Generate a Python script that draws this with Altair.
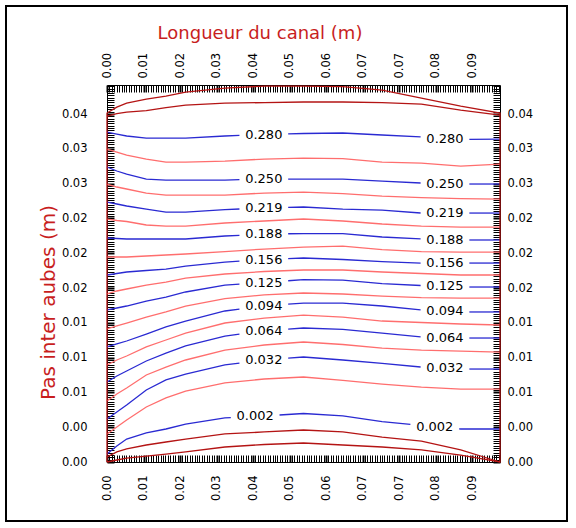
import numpy as np
import pandas as pd
import altair as alt

# Extent of the blade-to-blade channel (m)
X_MAX = 0.1
Y_MAX = 0.03792

# Axis graduations and the labels printed on them
X_STEP = 0.00929
X_TICK_LABELS = ["0.00", "0.01", "0.02", "0.03", "0.04", "0.05",
                 "0.06", "0.07", "0.07", "0.08", "0.09"]
Y_STEP = 0.0035
Y_TICK_LABELS = ["0.00", "0.00", "0.01", "0.01", "0.01", "0.02",
                 "0.02", "0.02", "0.03", "0.03", "0.04"]
SUBDIV = 15

# Abscissae (m) at which every curve is sampled
X_GRID = [0.0, 0.0025, 0.005, 0.01, 0.015, 0.02, 0.03, 0.04, 0.05,
          0.06, 0.07, 0.08, 0.09, 0.1]

# Blade walls and near-wall curves (m)
UPPER_WALL = [0.03510, 0.03570, 0.03610, 0.03651, 0.03681, 0.03721, 0.03761,
              0.03781, 0.03781, 0.03776, 0.03741, 0.03661, 0.03580, 0.03510]
UPPER_NEAR = [0.03480, 0.03505, 0.03520, 0.03535, 0.03565, 0.03590, 0.03610,
              0.03615, 0.03621, 0.03621, 0.03615, 0.03600, 0.03540, 0.03490]
LOWER_NEAR = [0.00050, 0.00101, 0.00131, 0.00171, 0.00201, 0.00231, 0.00282,
              0.00302, 0.00322, 0.00302, 0.00251, 0.00211, 0.00121, 0.0]
LOWER_WALL = [0.0, 0.00020, 0.00040, 0.00060, 0.00080, 0.00101, 0.00151,
              0.00176, 0.00191, 0.00171, 0.00151, 0.00121, 0.00070, 0.0]

# Stream-function iso-lines, top to bottom (m)
STREAM_LEVELS = [0.280, 0.265, 0.250, 0.234, 0.219, 0.203, 0.188, 0.172,
                 0.156, 0.141, 0.125, 0.110, 0.094, 0.079, 0.064, 0.048,
                 0.032, 0.017, 0.002]
STREAMLINES = [
    [0.03319, 0.03299, 0.03279, 0.03258, 0.03258, 0.03258, 0.03279, 0.03294, 0.03304, 0.03309, 0.03289, 0.03269, 0.03243, 0.03248],
    [0.03148, 0.03118, 0.03087, 0.03047, 0.03017, 0.03017, 0.03027, 0.03047, 0.03057, 0.03052, 0.03017, 0.03007, 0.02977, 0.02997],
    [0.02967, 0.02927, 0.02896, 0.02846, 0.02836, 0.02836, 0.02836, 0.02846, 0.02846, 0.02846, 0.02826, 0.02806, 0.02796, 0.02796],
    [0.02796, 0.02766, 0.02746, 0.02705, 0.02685, 0.02685, 0.02685, 0.02705, 0.02715, 0.02700, 0.02675, 0.02660, 0.02650, 0.02645],
    [0.02615, 0.02595, 0.02575, 0.02544, 0.02514, 0.02514, 0.02539, 0.02554, 0.02565, 0.02544, 0.02534, 0.02504, 0.02504, 0.02504],
    [0.02444, 0.02429, 0.02419, 0.02384, 0.02373, 0.02373, 0.02404, 0.02424, 0.02444, 0.02424, 0.02394, 0.02373, 0.02363, 0.02363],
    [0.02253, 0.02248, 0.02243, 0.02243, 0.02243, 0.02243, 0.02273, 0.02293, 0.02298, 0.02298, 0.02263, 0.02243, 0.02233, 0.02233],
    [0.02062, 0.02062, 0.02062, 0.02072, 0.02082, 0.02092, 0.02117, 0.02142, 0.02162, 0.02172, 0.02137, 0.02117, 0.02112, 0.02112],
    [0.01881, 0.01896, 0.01911, 0.01926, 0.01941, 0.01971, 0.02011, 0.02037, 0.02052, 0.02037, 0.02016, 0.02001, 0.02001, 0.02001],
    [0.01690, 0.01720, 0.01740, 0.01780, 0.01810, 0.01850, 0.01891, 0.01916, 0.01931, 0.01931, 0.01911, 0.01896, 0.01881, 0.01881],
    [0.01529, 0.01549, 0.01569, 0.01619, 0.01659, 0.01710, 0.01780, 0.01805, 0.01835, 0.01830, 0.01795, 0.01775, 0.01760, 0.01760],
    [0.01338, 0.01368, 0.01398, 0.01458, 0.01509, 0.01569, 0.01644, 0.01680, 0.01700, 0.01690, 0.01669, 0.01654, 0.01649, 0.01649],
    [0.01157, 0.01187, 0.01217, 0.01287, 0.01358, 0.01418, 0.01519, 0.01569, 0.01599, 0.01599, 0.01569, 0.01529, 0.01509, 0.01509],
    [0.00976, 0.01026, 0.01066, 0.01157, 0.01227, 0.01297, 0.01398, 0.01448, 0.01478, 0.01458, 0.01418, 0.01403, 0.01388, 0.01378],
    [0.00805, 0.00865, 0.00915, 0.01016, 0.01096, 0.01167, 0.01267, 0.01317, 0.01348, 0.01333, 0.01297, 0.01257, 0.01247, 0.01247],
    [0.00613, 0.00684, 0.00744, 0.00875, 0.00955, 0.01026, 0.01126, 0.01177, 0.01207, 0.01182, 0.01146, 0.01126, 0.01116, 0.01106],
    [0.00432, 0.00503, 0.00573, 0.00724, 0.00825, 0.00885, 0.00976, 0.01026, 0.01056, 0.01026, 0.00991, 0.00955, 0.00935, 0.00935],
    [0.00282, 0.00352, 0.00422, 0.00553, 0.00644, 0.00714, 0.00795, 0.00835, 0.00855, 0.00820, 0.00784, 0.00754, 0.00734, 0.00734],
    [0.00080, 0.00161, 0.00231, 0.00292, 0.00332, 0.00382, 0.00443, 0.00463, 0.00488, 0.00463, 0.00407, 0.00367, 0.00332, 0.00332],
]
# Abscissae (m) of the in-line value labels of each blue iso-line
LABEL_X = {0: [0.0399, 0.0860], 2: [0.0399, 0.0860], 4: [0.0399, 0.0860],
           6: [0.0399, 0.0860], 8: [0.0399, 0.0860], 10: [0.0399, 0.0860],
           12: [0.0399, 0.0860], 14: [0.0399, 0.0860], 16: [0.0399, 0.0860],
           18: [0.0377, 0.0834]}
LABEL_GAP = 0.0062

BLUE = "#2a2ad2"
PINK = "#ff6e6e"
WALL = "#b41414"
TITLE_RED = "#c81e1e"

# ---- line table: iso-lines broken around their labels ----
rows = []
for i, (lvl, ys) in enumerate(zip(STREAM_LEVELS, STREAMLINES)):
    kind = "blue" if i % 2 == 0 else "pink"
    gaps = LABEL_X.get(i, [])
    xs = sorted(set(X_GRID) | {g - LABEL_GAP for g in gaps} | {g + LABEL_GAP for g in gaps})
    for j, x in enumerate(xs):
        if any(g - LABEL_GAP + 1e-9 < x < g + LABEL_GAP - 1e-9 for g in gaps):
            continue
        seg = sum(1 for g in gaps if x >= g + LABEL_GAP - 1e-9)
        rows.append({"x": x, "y": float(np.interp(x, X_GRID, ys)),
                     "kind": kind, "seg": f"s{i}_{seg}", "o": j})

# channel boundary: lower wall, outlet, upper wall, inlet
bx = list(X_GRID) + [X_GRID[-1]] + list(X_GRID[::-1]) + [0.0]
by = list(LOWER_WALL) + [UPPER_WALL[-1]] + list(UPPER_WALL[::-1]) + [0.0]
for j, (x, y) in enumerate(zip(bx, by)):
    rows.append({"x": x, "y": y, "kind": "wall", "seg": "wall", "o": j})
for name, ys in (("up", UPPER_NEAR), ("low", LOWER_NEAR)):
    for j, (x, y) in enumerate(zip(X_GRID, ys)):
        rows.append({"x": x, "y": y, "kind": "wall", "seg": name, "o": j})
lines = pd.DataFrame(rows)

labels = pd.DataFrame([
    {"x": gx, "y": float(np.interp(gx, X_GRID, STREAMLINES[i])),
     "text": f"{STREAM_LEVELS[i]:.3f}"}
    for i, gl in LABEL_X.items() for gx in gl
])

# ---- axes: dense graduation ticks with labels on the main ones ----
def graduations(step, top):
    n = int(top / (step / SUBDIV) + 1e-9)
    return [round(k * step / SUBDIV, 7) for k in range(n + 1)]

def label_expr(step, names):
    arr = "[" + ",".join(f"'{s}'" for s in names) + "]"
    r = f"round(datum.value/{step})"
    return (f"abs(datum.value/{step} - {r}) < 0.03 && {r} < {len(names)} "
            f"? {arr}[{r}] : ''")

def major_test(step):
    return f"abs(datum.value/{step} - round(datum.value/{step})) < 0.03"

X_TICKS = graduations(X_STEP, X_MAX)
Y_TICKS = graduations(Y_STEP, Y_MAX)

common = dict(offset=-7, tickSize=7, domain=False, grid=False,
              labelOverlap=False, labelFlush=False, labelBound=False,
              labelFont="DejaVu Sans", labelFontSize=11.5, labelColor="black",
              tickColor="black",
              titleFont="DejaVu Sans", titleColor=TITLE_RED,
              titleFontWeight="normal")


def x_axis(orient, pad, **kw):
    return alt.Axis(orient=orient, values=X_TICKS, labelAngle=270,
                    labelPadding=pad,
                    labelExpr=label_expr(X_STEP, X_TICK_LABELS),
                    tickWidth={"condition": {"test": major_test(X_STEP), "value": 2},
                               "value": 1},
                    **common, **kw)


def y_axis(orient, pad, **kw):
    return alt.Axis(orient=orient, values=Y_TICKS, labelPadding=pad,
                    labelExpr=label_expr(Y_STEP, Y_TICK_LABELS),
                    tickWidth={"condition": {"test": major_test(Y_STEP), "value": 2},
                               "value": 1},
                    **common, **kw)


xs = alt.Scale(domain=[0, X_MAX], nice=False, zero=False)
ys = alt.Scale(domain=[0, Y_MAX], nice=False, zero=False)

frame = alt.Chart(pd.DataFrame({"f": [0]})).mark_rect(
    fillOpacity=0, stroke="black", strokeWidth=2
).encode(x=alt.value(-101), x2=alt.value(460), y=alt.value(-79), y2=alt.value(436))

curves = alt.Chart(lines).mark_line(strokeWidth=1.3).encode(
    x=alt.X("x:Q", scale=xs, axis=x_axis("bottom", 13, title=None)),
    y=alt.Y("y:Q", scale=ys,
            axis=y_axis("left", 20, title="Pas inter aubes (m)", titleAngle=270,
                        titleFontSize=20,
                        titleAlign="center", titleBaseline="alphabetic",
                        titleX=-60, titleY=217)),
    color=alt.Color("kind:N", legend=None,
                    scale=alt.Scale(domain=["blue", "pink", "wall"],
                                    range=[BLUE, PINK, WALL])),
    detail="seg:N",
    order="o:Q",
)

values = alt.Chart(labels).mark_text(
    font="DejaVu Sans", fontSize=13, color="black", align="center", baseline="middle"
).encode(
    x=alt.X("x:Q", scale=xs,
            axis=x_axis("top", 7, title="Longueur du canal (m)", titleAngle=0,
                        titleFontSize=18,
                        titleAlign="center", titleBaseline="alphabetic",
                        titleX=152.5, titleY=-53.5)),
    y=alt.Y("y:Q", scale=ys, axis=y_axis("right", 7, title=None)),
    text="text:N",
)

chart = alt.layer(frame, curves, values).properties(
    width=393, height=377,
    autosize=alt.AutoSizeParams(type="none"),
    padding={"left": 107, "top": 85, "right": 76, "bottom": 66},
    background="white",
).configure_view(stroke="black", strokeWidth=1)

chart.save("out.html", embed_options={"renderer": "svg", "actions": False})
